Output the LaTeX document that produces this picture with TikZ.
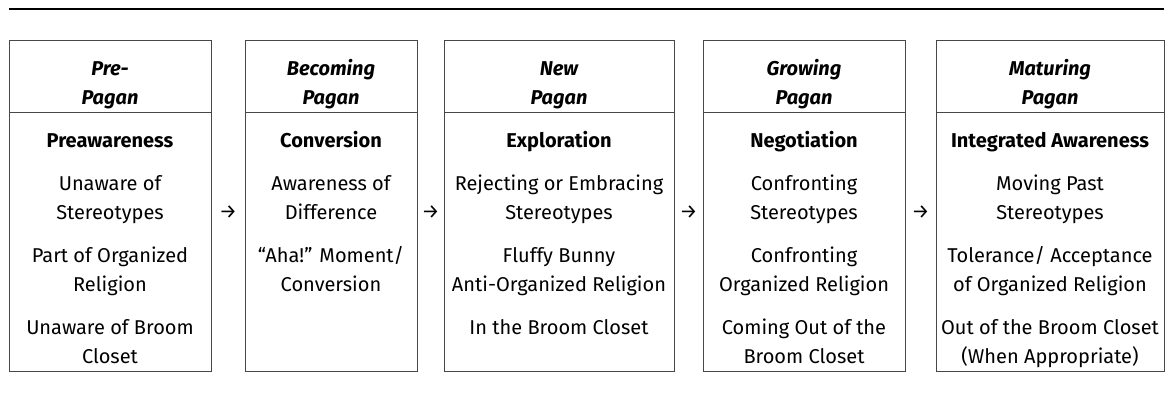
\documentclass[tikz,border=0pt]{standalone}
\usepackage{fontspec}
\setmainfont{Fira Sans}
\usetikzlibrary{calc}
\newcommand\firstline{\rule{0pt}{20pt}}
\tikzset{
  boxframe/.style={draw=black!72, line width=0.9pt, inner sep=0pt, anchor=north},
  boxhead/.style={boxframe, minimum height=72pt},
  boxbody/.style={boxframe, minimum height=259pt},
  headtext/.style={anchor=north, align=center, inner sep=0pt, font=\fontsize{20}{29}\selectfont\bfseries\itshape},
  bodytext/.style={anchor=north, align=center, inner sep=0pt, font=\fontsize{20}{29}\selectfont},
  arrowtext/.style={inner sep=0pt, font=\fontsize{20}{29}\selectfont},
}
\newcommand\stagebox[5]{%
  \node[boxhead, minimum width=#3] (#1h) at (#2,40) {};
  \node[boxbody, minimum width=#3] (#1b) at (#2,112) {};
  \node[headtext] (#1ht) at (#2,55) {\firstline#4};
  \node[bodytext] (#1bt) at (#2,127) {\firstline#5};
}
\begin{document}
\begin{tikzpicture}[x=1pt,y=-1pt]
\useasboundingbox (0,0) rectangle (1175,393);
\coordinate (ruleL) at (9,9);
\coordinate (ruleR) at (1164,9);
\draw[line width=2pt] (ruleL) -- (ruleR);
\stagebox{s1}{110}{202pt}{Pre-\\Pagan}{\textbf{Preawareness}\\[14pt]Unaware of\\Stereotypes\\[14pt]Part of Organized\\Religion\\[14pt]Unaware of Broom\\Closet}
\stagebox{s2}{331}{172pt}{Becoming\\Pagan}{\textbf{Conversion}\\[14pt]Awareness of\\Difference\\[14pt]“Aha!” Moment/\\Conversion}
\stagebox{s3}{559}{230pt}{New\\Pagan}{\textbf{Exploration}\\[14pt]Rejecting or Embracing\\Stereotypes\\[14pt]Fluffy Bunny\\Anti-Organized Religion\\[14pt]In the Broom Closet}
\stagebox{s4}{804}{202pt}{Growing\\Pagan}{\textbf{Negotiation}\\[14pt]Confronting\\Stereotypes\\[14pt]Confronting\\Organized Religion\\[14pt]Coming Out of the\\Broom Closet}
\stagebox{s5}{1050}{228pt}{Maturing\\Pagan}{\textbf{Integrated Awareness}\\[14pt]Moving Past\\Stereotypes\\[14pt]Tolerance/ Acceptance\\of Organized Religion\\[14pt]Out of the Broom Closet\\(When Appropriate)}
\node[arrowtext] (a1) at ($(s1b.north east)!0.5!(s2b.north west)+(0,100)$) {→};
\node[arrowtext] (a2) at ($(s2b.north east)!0.5!(s3b.north west)+(0,100)$) {→};
\node[arrowtext] (a3) at ($(s3b.north east)!0.5!(s4b.north west)+(0,100)$) {→};
\node[arrowtext] (a4) at ($(s4b.north east)!0.5!(s5b.north west)+(0,100)$) {→};
\end{tikzpicture}
\end{document}
